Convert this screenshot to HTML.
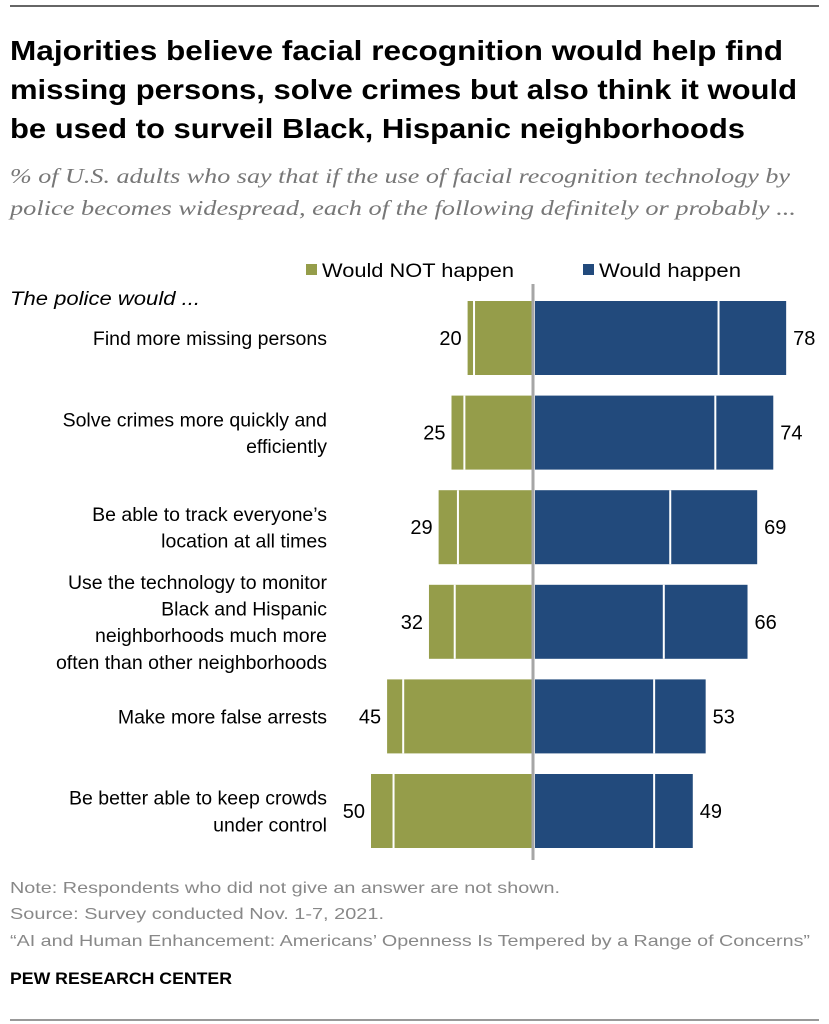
<!DOCTYPE html>
<html><head><meta charset="utf-8"><style>
body{margin:0;background:#fff}
svg{display:block;font-family:"Liberation Sans",sans-serif}
</style></head><body>
<svg id="chart" width="829" height="1024" viewBox="0 0 829 1024" xmlns="http://www.w3.org/2000/svg">
<rect width="829" height="1024" fill="#fff"/>
<line x1="10" y1="6" x2="819" y2="6" stroke="#333" stroke-width="1.5"/>
<g font-weight="bold" font-size="28" fill="#000">
<text x="10" y="60" textLength="773" lengthAdjust="spacingAndGlyphs">Majorities believe facial recognition would help find</text>
<text x="10" y="99" textLength="787" lengthAdjust="spacingAndGlyphs">missing persons, solve crimes but also think it would</text>
<text x="10" y="138" textLength="735" lengthAdjust="spacingAndGlyphs">be used to surveil Black, Hispanic neighborhoods</text>
</g>
<g font-family="'Liberation Serif',serif" font-style="italic" font-size="21" fill="#777">
<text x="10" y="183" textLength="780" lengthAdjust="spacingAndGlyphs">% of U.S. adults who say that if the use of facial recognition technology by</text>
<text x="10" y="215" textLength="786" lengthAdjust="spacingAndGlyphs">police becomes widespread, each of the following definitely or probably ...</text>
</g>
<g font-size="19" fill="#000">
<rect x="306" y="264" width="11" height="11" fill="#959D4A"/>
<text x="322" y="277" textLength="192" lengthAdjust="spacingAndGlyphs">Would NOT happen</text>
<rect x="583" y="264" width="11" height="11" fill="#224A7C"/>
<text x="599" y="277" textLength="142" lengthAdjust="spacingAndGlyphs">Would happen</text>
</g>
<text x="10" y="305" font-size="19" font-style="italic" textLength="190" lengthAdjust="spacingAndGlyphs">The police would ...</text>
<g id="bars"></g>
<line x1="533" y1="284" x2="533" y2="860" stroke="#A6A6A6" stroke-width="3"/>
<g font-size="16" fill="#888">
<text x="10" y="893" textLength="550" lengthAdjust="spacingAndGlyphs">Note: Respondents who did not give an answer are not shown.</text>
<text x="10" y="919" textLength="374" lengthAdjust="spacingAndGlyphs">Source: Survey conducted Nov. 1-7, 2021.</text>
<text x="10" y="946" textLength="800" lengthAdjust="spacingAndGlyphs">“AI and Human Enhancement: Americans’ Openness Is Tempered by a Range of Concerns”</text>
</g>
<text x="10" y="984" font-size="17" font-weight="bold" fill="#000" textLength="222" lengthAdjust="spacingAndGlyphs">PEW RESEARCH CENTER</text>
<line x1="10" y1="1020" x2="819" y2="1020" stroke="#333" stroke-width="1"/>
</svg>
<script>
const categories = [
  ["Find more missing persons"],
  ["Solve crimes more quickly and","efficiently"],
  ["Be able to track everyone’s","location at all times"],
  ["Use the technology to monitor","Black and Hispanic","neighborhoods much more","often than other neighborhoods"],
  ["Make more false arrests"],
  ["Be better able to keep crowds","under control"]
];
const notTotal = [20,25,29,32,45,50];
const notDefinitely = [2,4,6,8,5,7];
const happenTotal = [78,74,69,66,53,49];
const happenDefinitely = [21,18,27,26,16,12];

const NS = "http://www.w3.org/2000/svg";
const unit = 3.22;
const xR = v => 535 + v * unit;
const xL = v => 532 - v * unit;
const rowTop = i => 301 + i * 94.6;
const barH = 74;
const g = document.getElementById('bars');
function mk(tag, attrs){const e=document.createElementNS(NS,tag);for(const k in attrs)e.setAttribute(k,attrs[k]);return e;}

categories.forEach((lines,i)=>{
  const y = rowTop(i), cy = y + barH/2;
  const nl = mk('rect',{x:xL(notTotal[i]),y:y,width:notTotal[i]*unit,height:barH,fill:'#959D4A'});
  
  
  g.appendChild(nl);
  const nd = mk('line',{x1:xL(notTotal[i]-notDefinitely[i]),x2:xL(notTotal[i]-notDefinitely[i]),y1:y,y2:y+barH,stroke:'#fff','stroke-width':2});
  
  
  g.appendChild(nd);
  const hb = mk('rect',{x:535,y:y,width:happenTotal[i]*unit,height:barH,fill:'#224A7C'});
  
  
  g.appendChild(hb);
  const hd = mk('line',{x1:xR(happenTotal[i]-happenDefinitely[i]),x2:xR(happenTotal[i]-happenDefinitely[i]),y1:y,y2:y+barH,stroke:'#fff','stroke-width':2});
  
  
  g.appendChild(hd);
  const lv = mk('text',{x:xL(notTotal[i])-6,y:cy+7,'font-size':20,'text-anchor':'end',fill:'#000'});
  lv.textContent = notTotal[i];
  
  
  g.appendChild(lv);
  const rv = mk('text',{x:xR(happenTotal[i])+7,y:cy+7,'font-size':20,fill:'#000'});
  rv.textContent = happenTotal[i];
  
  
  g.appendChild(rv);
  const lh = 26.7;
  const start = cy - (lines.length-1)*lh/2 + 7;
  lines.forEach((t,j)=>{
    const tx = mk('text',{x:327,y:start+j*lh,'font-size':19.5,'text-anchor':'end',fill:'#000'});
    tx.textContent = t;
    
    
    g.appendChild(tx);
  });
});
</script>
</body></html>
